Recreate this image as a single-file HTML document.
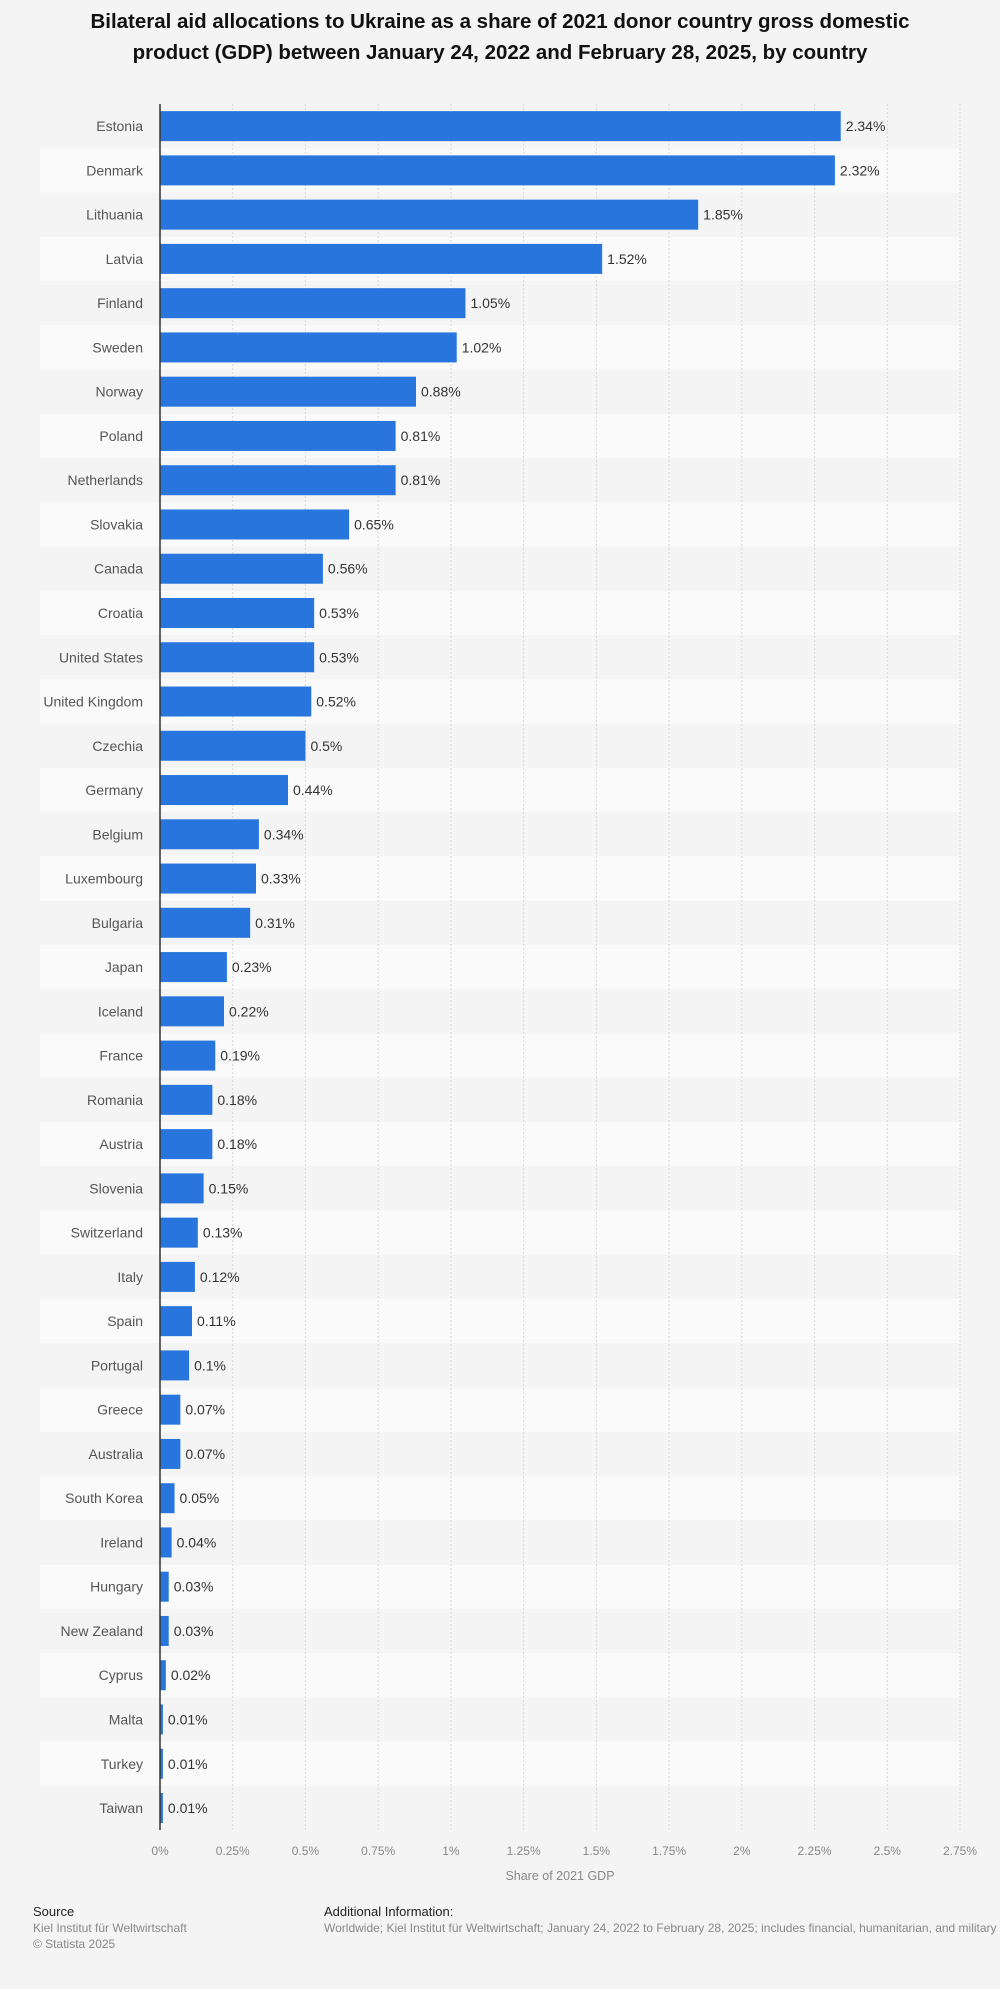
<!DOCTYPE html>
<html><head><meta charset="utf-8"><style>
body{margin:0;background:#f4f4f4;font-family:"Liberation Sans",Arial,sans-serif;}
#wrap{position:relative;width:1000px;height:1989px;overflow:hidden;}
h1{position:absolute;left:0;width:1000px;top:6px;margin:0;text-align:center;font-size:20.5px;line-height:31px;color:#111;font-weight:bold;}
.ft{position:absolute;font-size:12px;color:#888;}
</style></head><body>
<div id="wrap">
<h1>Bilateral aid allocations to Ukraine as a share of 2021 donor country gross domestic<br>product (GDP) between January 24, 2022 and February 28, 2025, by country</h1>
<svg id="chart" width="1000" height="1900" style="position:absolute;left:0;top:0"></svg>
<div class="ft" style="left:33px;top:1904px;color:#222;font-size:13px">Source</div>
<div class="ft" style="left:33px;top:1921px">Kiel Institut für Weltwirtschaft</div>
<div class="ft" style="left:33px;top:1937px">© Statista 2025</div>
<div class="ft" style="left:324px;top:1904px;color:#222;font-size:13px">Additional Information:</div>
<div class="ft" style="left:324px;top:1921px;white-space:nowrap">Worldwide; Kiel Institut für Weltwirtschaft; January 24, 2022 to February 28, 2025; includes financial, humanitarian, and military aid</div>
</div>
<script>
const countries=["Estonia","Denmark","Lithuania","Latvia","Finland","Sweden","Norway","Poland","Netherlands","Slovakia","Canada","Croatia","United States","United Kingdom","Czechia","Germany","Belgium","Luxembourg","Bulgaria","Japan","Iceland","France","Romania","Austria","Slovenia","Switzerland","Italy","Spain","Portugal","Greece","Australia","South Korea","Ireland","Hungary","New Zealand","Cyprus","Malta","Turkey","Taiwan"];
const values=[2.34,2.32,1.85,1.52,1.05,1.02,0.88,0.81,0.81,0.65,0.56,0.53,0.53,0.52,0.5,0.44,0.34,0.33,0.31,0.23,0.22,0.19,0.18,0.18,0.15,0.13,0.12,0.11,0.1,0.07,0.07,0.05,0.04,0.03,0.03,0.02,0.01,0.01,0.01];
const ticks=[0,0.25,0.5,0.75,1,1.25,1.5,1.75,2,2.25,2.5,2.75];
const tickLabels=["0%","0.25%","0.5%","0.75%","1%","1.25%","1.5%","1.75%","2%","2.25%","2.5%","2.75%"];
const NS="http://www.w3.org/2000/svg";
const svg=document.getElementById('chart');
const X0=160,X1=960,XMAX=2.75,TOP=104,ROW=44.26;
const x=v=>X0+v/XMAX*(X1-X0);
const y=i=>TOP+i*ROW;
function mk(t,a){const e=document.createElementNS(NS,t);for(const k in a)e.setAttribute(k,a[k]);svg.appendChild(e);return e;}
countries.forEach((c,i)=>{
  const b=mk('rect',{x:40,y:y(i),width:920,height:ROW,fill:i%2?'#fafafa':'#f4f4f4'});
  
  
});
ticks.forEach((t,i)=>{
  if(i>0){const g=mk('line',{x1:x(t),x2:x(t),y1:TOP,y2:TOP+countries.length*ROW,stroke:'#d8d8d8','stroke-dasharray':'2,2'});
  
  }
  const l=mk('text',{x:x(t),y:1855,'text-anchor':'middle','font-size':12,fill:'#888'});
  l.textContent=tickLabels[i];
  
  
});
countries.forEach((c,i)=>{
  const cy=y(i)+ROW/2;
  const r=mk('rect',{x:X0,y:cy-15,width:Math.max(x(values[i])-X0,1.5),height:30,fill:'#2876dd'});
  
  
  const lb=mk('text',{x:143,y:cy+5,'text-anchor':'end','font-size':14,fill:'#555'});
  lb.textContent=c;
  
  
  const v=mk('text',{x:x(values[i])+5,y:cy+5,'font-size':14,fill:'#333'});
  v.textContent=values[i]+'%';
  
  
});
const ax=mk('line',{x1:X0,x2:X0,y1:TOP,y2:TOP+countries.length*ROW,stroke:'#333','stroke-width':1.5});


const at=mk('text',{x:560,y:1880,'text-anchor':'middle','font-size':12.5,fill:'#888'});
at.textContent='Share of 2021 GDP';


</script>
</body></html>
